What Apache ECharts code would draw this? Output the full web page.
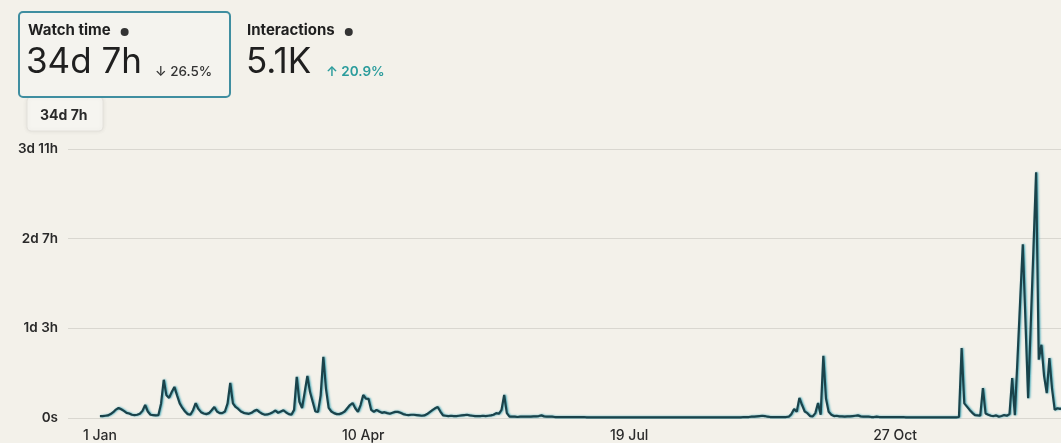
<!DOCTYPE html>
<html><head><meta charset="utf-8">
<script src="https://cdn.jsdelivr.net/npm/echarts@6/dist/echarts.min.js"></script>
<style>html,body{margin:0;padding:0;background:#f3f1ea}#c{width:1061px;height:443px}</style>
</head><body><div id="c"></div><script>
// y axis: watch time in hours, ticks shown as duration labels
const yTickLabels = ['0s', '1d 3h', '2d 7h', '3d 11h'];
const yMaxHours = 83;
// x axis: day index from 1 Jan
const xTickLabels = ['1 Jan', '10 Apr', '19 Jul', '27 Oct'];
const xTickDays = [0, 99, 199, 299];
const leadDays = 12; // empty days shown before 1 Jan
// daily watch time (hours), 1 Jan .. 31 Dec
const watchHours = [
  0.6,0.6,0.7,0.8,1.2,1.8,2.6,3.1,2.7,2.2,
  1.6,1.4,1.0,0.9,1.0,1.3,2.2,4.0,2.0,1.0,
  0.9,0.8,0.9,4.5,11.8,7.0,6.2,8.0,9.6,7.0,
  4.5,3.1,2.0,1.2,1.0,2.4,4.6,2.8,1.8,1.4,
  1.2,1.5,2.4,3.4,2.0,1.5,1.5,2.0,4.5,10.8,
  4.5,3.4,2.8,2.0,1.6,1.4,1.3,1.6,2.2,2.5,
  1.8,1.3,1.0,1.1,1.4,1.8,2.3,1.6,2.0,2.4,
  1.7,1.2,1.0,2.5,12.7,5.0,3.1,8.0,13.0,8.0,
  5.0,2.0,1.9,7.0,18.9,9.0,3.1,2.0,1.5,1.2,
  1.2,1.5,2.0,3.0,4.0,4.6,3.0,1.9,4.0,7.1,
  6.0,5.9,2.5,1.9,2.5,2.0,1.6,1.8,1.5,1.3,
  1.6,1.9,1.9,1.6,1.2,1.0,0.9,1.0,1.0,0.9,
  0.8,0.7,0.8,1.2,1.8,2.4,3.0,3.4,2.0,0.8,
  0.7,0.6,0.7,0.6,0.6,0.7,0.8,0.9,1.0,0.8,
  0.7,0.6,0.6,0.6,0.7,0.6,0.7,0.8,1.0,1.5,
  1.3,2.5,7.1,1.5,0.4,0.4,0.4,0.3,0.4,0.4,
  0.4,0.4,0.4,0.5,0.5,0.6,0.8,0.5,0.4,0.4,
  0.4,0.3,0.3,0.3,0.3,0.3,0.3,0.3,0.3,0.3,
  0.3,0.3,0.3,0.2,0.2,0.2,0.2,0.2,0.2,0.2,
  0.2,0.2,0.2,0.2,0.2,0.2,0.2,0.2,0.2,0.2,
  0.2,0.2,0.2,0.2,0.2,0.2,0.2,0.2,0.2,0.2,
  0.2,0.2,0.2,0.2,0.2,0.2,0.2,0.2,0.2,0.2,
  0.2,0.2,0.2,0.2,0.2,0.2,0.2,0.2,0.2,0.2,
  0.2,0.2,0.2,0.2,0.2,0.2,0.2,0.2,0.2,0.2,
  0.2,0.2,0.3,0.3,0.3,0.4,0.4,0.5,0.6,0.7,
  0.6,0.4,0.3,0.3,0.3,0.3,0.3,0.3,0.3,0.4,
  1.2,2.8,1.9,6.2,4.0,2.0,1.5,0.6,0.5,1.5,
  4.6,1.0,19.2,6.0,1.9,1.0,0.6,0.7,0.5,0.5,
  0.4,0.5,0.5,0.6,0.7,0.8,0.5,0.4,0.4,0.4,
  0.3,0.3,0.4,0.3,0.3,0.3,0.3,0.3,0.3,0.3,
  0.3,0.3,0.3,0.2,0.2,0.2,0.2,0.2,0.2,0.2,
  0.2,0.2,0.2,0.2,0.2,0.2,0.2,0.2,0.2,0.2,
  0.2,0.2,0.2,0.3,21.6,4.5,3.5,2.5,1.6,0.9,
  0.8,0.7,9.2,1.4,1.0,0.7,0.6,0.8,0.4,0.6,
  0.9,0.7,1.2,12.3,0.9,18.0,36.0,53.6,30.0,6.1,
  29.0,52.0,75.8,18.0,22.6,13.0,7.7,18.5,9.0,2.5,
  3.0,2.8,3.0,2.6,2.5
];
// header cards
const cardTitles = ['Watch time', 'Interactions'];
const cardValues = ['34d 7h', '5.1K'];
const cardChanges = ['\u2193 26.5%', '\u2191 20.9%'];
const hoverLabel = '34d 7h';

const categories = [];
for (let i = 0; i < leadDays + watchHours.length; i++) categories.push(String(i - leadDays));
const seriesData = new Array(leadDays).fill(null).concat(watchHours);

const F = 'Inter, Roboto, "Noto Sans", sans-serif';
const titleFont = '700 15px ' + F;
const mctx = document.createElement('canvas').getContext('2d');
mctx.font = titleFont;
const tw0 = mctx.measureText(cardTitles[0]).width;
const tw1 = mctx.measureText(cardTitles[1]).width;

const chart = echarts.init(document.getElementById('c'));
chart.setOption({
  backgroundColor: '#f3f1ea',
  animation: false,
  grid: { left: 68, width: 1000, top: 149, bottom: 25, containLabel: false, outerBoundsMode: 'none' },
  xAxis: {
    type: 'category', data: categories, boundaryGap: false,
    axisLine: { show: false }, axisTick: { show: false }, splitLine: { show: false },
    axisLabel: {
      interval: (i) => xTickDays.includes(i - leadDays),
      formatter: (v, i) => xTickLabels[xTickDays.indexOf(i - leadDays)],
      color: '#2b2b2b', fontSize: 14, fontFamily: F, fontWeight: 500, margin: 11
    }
  },
  yAxis: {
    type: 'value', min: 0, max: yMaxHours, interval: yMaxHours / 3,
    axisLine: { show: false }, axisTick: { show: false },
    axisLabel: {
      formatter: (v) => yTickLabels[Math.round(v / (yMaxHours / 3))],
      color: '#2a2a2a', fontSize: 13.5, fontWeight: 600, fontFamily: F, margin: 10
    },
    splitLine: { lineStyle: { color: '#d9d7d0', width: 1 } }
  },
  series: [{
    type: 'line', data: seriesData, showSymbol: false, symbol: 'none',
    lineStyle: { color: '#1a434b', width: 2.2, shadowColor: 'rgba(30,155,175,0.8)', shadowBlur: 2, shadowOffsetX: 1 },
    z: 3
  }],
  graphic: [
    { type: 'rect', shape: { x: 27, y: 97, width: 76, height: 34, r: 4 },
      style: { fill: '#f6f5f0', stroke: '#e4e2dc', lineWidth: 1, shadowColor: 'rgba(0,0,0,0.08)', shadowBlur: 4 } },
    { type: 'text', left: 40, top: 109, style: { text: hoverLabel, font: '700 14px ' + F, fill: '#2a2a2a' } },
    { type: 'rect', shape: { x: 19, y: 12, width: 211, height: 85, r: 4 },
      style: { fill: '#f4f3ee', stroke: '#3f8ea0', lineWidth: 2 } },
    { type: 'text', left: 28, top: 23, style: { text: cardTitles[0], font: titleFont, fill: '#1f1f1f' } },
    { type: 'circle', shape: { cx: 28 + tw0 + 14, cy: 32, r: 4 }, style: { fill: '#333' } },
    { type: 'text', left: 26, top: 45, style: { text: cardValues[0], font: '400 35px ' + F, fill: '#1f1f1f' } },
    { type: 'text', left: 155, top: 65, style: { text: cardChanges[0], font: '500 13.5px ' + F, fill: '#333' } },
    { type: 'text', left: 247, top: 23, style: { text: cardTitles[1], font: titleFont, fill: '#1f1f1f' } },
    { type: 'circle', shape: { cx: 247 + tw1 + 14, cy: 32, r: 4 }, style: { fill: '#333' } },
    { type: 'text', left: 246, top: 45, style: { text: cardValues[1], font: '400 35px ' + F, fill: '#1f1f1f' } },
    { type: 'text', left: 326, top: 65, style: { text: cardChanges[1], font: '600 13.5px ' + F, fill: '#2a9c9c' } }
  ]
});
</script></body></html>
